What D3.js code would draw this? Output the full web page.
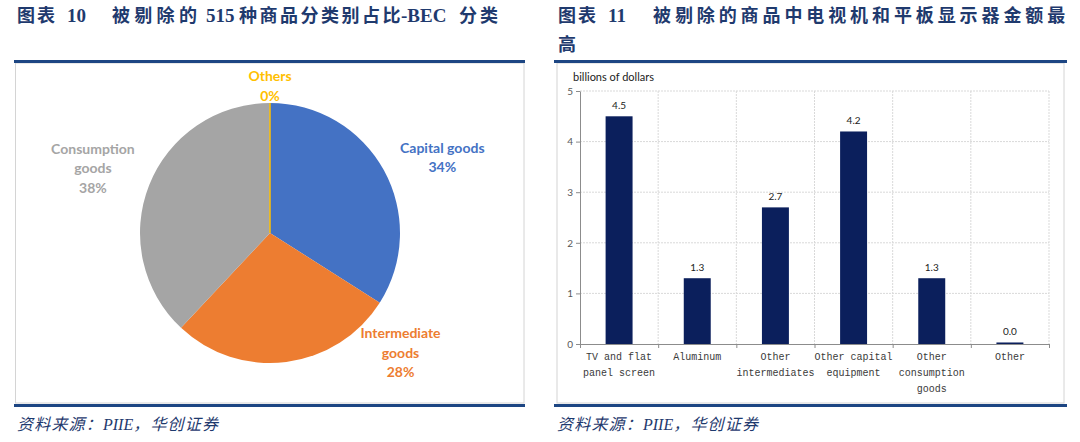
<!DOCTYPE html>
<html>
<head>
<meta charset="utf-8">
<script src="https://cdn.jsdelivr.net/npm/d3@7"></script>
<style>
    body { margin: 0; background: #fff; }
</style>
</head>
<body>
<svg id="chart" width="1080" height="442"></svg>
<script>
// pie data (share of removed goods by BEC class)
const pieCategories = ["Capital goods", "Intermediate goods", "Consumption goods", "Others"];
const pieShares = [34, 28, 38, 0];
const pieLabelLines = [["Capital goods"], ["Intermediate", "goods"], ["Consumption", "goods"], ["Others"]];

// bar data (billions of dollars)
const barCategories = [
    ["TV and flat", "panel screen"],
    ["Aluminum"],
    ["Other", "intermediates"],
    ["Other capital", "equipment"],
    ["Other", "consumption", "goods"],
    ["Other"]
];
const barValues = [4.5, 1.3, 2.7, 4.2, 1.3, 0.03];
const yTicks = [0, 1, 2, 3, 4, 5];

const navy = "#1f3a6e";
const ruleColor = "#1d4683";
const pieColors = ["#4472c4", "#ed7d31", "#a5a5a5", "#ffc000"];
// where excel put the labels (best fit): angle in degrees from 12 o'clock, distance from centre
const pieLabelAt = [
    { a: 66.4, r: 188 },
    { a: 132.5, r: 177 },
    { a: 290.1, r: 188.6 },
    { a: 0, r: 147 }
];

const svg = d3.select("#chart");
const titleFont = "'Liberation Serif', 'Noto Sans CJK SC'";
const isCjk = s => /[\u3000-\u9fff\uff00-\uffef]/.test(s);

// text made of pieces: [text, x, letter-spacing]; latin pieces a bit larger
function mixedText(sel, parts, spacing, latinSize) {
    parts.forEach(p => {
        const t = sel.append("tspan")
            .attr("letter-spacing", isCjk(p[0]) ? (p[2] != null ? p[2] : spacing) : 0)
            .text(p[0]);
        if (p[1] != null) t.attr("x", p[1]);
        if (latinSize && !isCjk(p[0])) t.attr("font-size", latinSize);
    });
    return sel;
}

// ---------- frames, titles, sources ----------
function panelFrame(x0, x1, boxLeft, boxRight) {
    svg.append("rect")
        .attr("x", boxLeft).attr("y", 63)
        .attr("width", boxRight - boxLeft).attr("height", 340)
        .attr("fill", "none")
        .attr("stroke", "#d4d4d4");
    svg.append("line")
        .attr("x1", x0).attr("x2", x1)
        .attr("y1", 61.5).attr("y2", 61.5)
        .attr("stroke", ruleColor).attr("stroke-width", 3);
    svg.append("line")
        .attr("x1", x0).attr("x2", x1)
        .attr("y1", 405.5).attr("y2", 405.5)
        .attr("stroke", ruleColor).attr("stroke-width", 3);
    const src = svg.append("text")
        .attr("x", x0 + 3).attr("y", 430)
        .attr("font-family", titleFont)
        .attr("font-style", "italic")
        .attr("font-size", 16)
        .attr("fill", navy);
    mixedText(src, [["资料来源："], ["PIIE"], ["，华创证券"]], 1.2);
}
panelFrame(14, 525, 15.5, 524);
panelFrame(554, 1067, 557, 1064);

function title(x, num, parts, spacing, latinSize) {
    const t = svg.append("g")
        .attr("font-family", titleFont)
        .attr("font-weight", "bold")
        .attr("font-size", 18)
        .attr("fill", navy);
    t.append("text").attr("x", x).attr("y", 22)
        .attr("letter-spacing", 2)
        .text("图表");
    t.append("text").attr("x", x + 50).attr("y", 22)
        .attr("font-size", 19)
        .text(num);
    mixedText(t.append("text").attr("y", 22), parts, spacing, latinSize);
    return t;
}
title(17, "10", [
    ["被剔除的", 112, 4.3],
    ["515", 206],
    ["种商品分类别占比", 239, 2.5],
    ["-BEC", 401],
    ["分类", 459, 3]
], 3, 19);
title(558, "11", [["被剔除的商品中电视机和平板显示器金额最", 653]], 3.9)
    .append("text").attr("x", 558).attr("y", 51).text("高");

// ---------- pie ----------
const cx = 270, cy = 233, radius = 130;
const pie = d3.pie().sort(null).value(d => d);
const arc = d3.arc().innerRadius(0).outerRadius(radius);

const pieG = svg.append("g").attr("transform", "translate(" + cx + "," + cy + ")");
const slices = pie(pieShares);

pieG.selectAll(".slice")
    .data(slices)
    .enter().append("path")
    .attr("class", "slice")
    .attr("d", arc)
    .attr("fill", (d, i) => pieColors[i])
    .attr("stroke", (d, i) => d.value === 0 ? pieColors[i] : "none")
    .attr("stroke-width", 1);

const labelG = pieG.selectAll(".pie-label")
    .data(slices)
    .enter().append("text")
    .attr("class", "pie-label")
    .attr("text-anchor", "middle")
    .attr("font-family", "Lato, 'Open Sans', sans-serif")
    .attr("font-weight", "bold")
    .attr("font-size", 14)
    .attr("fill", (d, i) => pieColors[i])
    .attr("transform", (d, i) => {
        const p = pieLabelAt[i];
        const a = p.a * Math.PI / 180;
        return "translate(" + (p.r * Math.sin(a)) + "," + (-p.r * Math.cos(a)) + ")";
    });

labelG.each(function (d, i) {
    const lines = pieLabelLines[i].concat([d.value + "%"]);
    const el = d3.select(this);
    lines.forEach((l, k) => {
        el.append("tspan")
            .attr("x", 0)
            .attr("y", (k - (lines.length - 1) / 2) * 19.5 + 5)
            .text(l);
    });
});

// ---------- bar chart ----------
const plot = { left: 580, right: 1049, top: 91, bottom: 344 };

const x = d3.scaleBand()
    .domain(d3.range(barValues.length))
    .range([plot.left, plot.right])
    .padding(0);
const y = d3.scaleLinear()
    .domain([0, 5])
    .range([plot.bottom, plot.top]);
const xEdges = d3.scaleLinear()
    .domain([0, barValues.length])
    .range([plot.left, plot.right]);

const grid = svg.append("g")
    .attr("stroke", "#d9d9d9")
    .attr("stroke-dasharray", "2,1");
grid.selectAll(".hgrid")
    .data(yTicks.slice(1))
    .enter().append("line")
    .attr("x1", plot.left).attr("x2", plot.right)
    .attr("y1", d => y(d)).attr("y2", d => y(d));
grid.selectAll(".vgrid")
    .data(d3.range(1, barValues.length + 1))
    .enter().append("line")
    .attr("x1", d => xEdges(d)).attr("x2", d => xEdges(d))
    .attr("y1", plot.top).attr("y2", plot.bottom);

// axes
const yAxis = svg.append("g")
    .attr("transform", "translate(" + plot.left + ",0)")
    .call(d3.axisLeft(y).tickValues(yTicks).tickFormat(d3.format("d"))
        .tickSize(4).tickSizeOuter(0).tickPadding(3));
const xAxis = svg.append("g")
    .attr("transform", "translate(0," + plot.bottom + ")")
    .call(d3.axisBottom(xEdges).tickValues(d3.range(0, barValues.length + 1))
        .tickSize(4).tickSizeOuter(0).tickFormat(""));
[yAxis, xAxis].forEach(a => {
    a.selectAll("path, line").attr("stroke", "#8c8c8c");
});
yAxis.selectAll("text")
    .attr("font-family", "Lato, 'Open Sans', sans-serif")
    .attr("font-size", 10)
    .attr("fill", "#595959");

// bars
const barW = x.bandwidth() * 0.345;
svg.selectAll(".bar")
    .data(barValues)
    .enter().append("rect")
    .attr("class", "bar")
    .attr("x", (d, i) => x(i) + (x.bandwidth() - barW) / 2)
    .attr("y", d => y(d))
    .attr("width", barW)
    .attr("height", d => y(0) - y(d))
    .attr("fill", "#0b1f5c");

svg.selectAll(".bar-value")
    .data(barValues)
    .enter().append("text")
    .attr("class", "bar-value")
    .attr("text-anchor", "middle")
    .attr("font-family", "Lato, 'Open Sans', sans-serif")
    .attr("font-size", 10)
    .attr("fill", "#222")
    .attr("x", (d, i) => x(i) + x.bandwidth() / 2)
    .attr("y", d => y(d) - 7)
    .text(d => d3.format(".1f")(d));

// category labels, several lines each
svg.selectAll(".bar-label")
    .data(barCategories)
    .enter().append("text")
    .attr("class", "bar-label")
    .attr("text-anchor", "middle")
    .attr("font-family", "'Liberation Mono', monospace")
    .attr("font-size", 10)
    .attr("fill", "#3a3a3a")
    .each(function (lines, i) {
        const el = d3.select(this);
        lines.forEach((l, k) => {
            el.append("tspan")
                .attr("x", x(i) + x.bandwidth() / 2)
                .attr("y", plot.bottom + 15.5 + k * 16)
                .text(l);
        });
    });

svg.append("text")
    .attr("x", 573).attr("y", 81)
    .attr("font-family", "Lato, 'Open Sans', sans-serif")
    .attr("font-size", 11)
    .attr("fill", "#222")
    .text("billions of dollars");
</script>
</body>
</html>
